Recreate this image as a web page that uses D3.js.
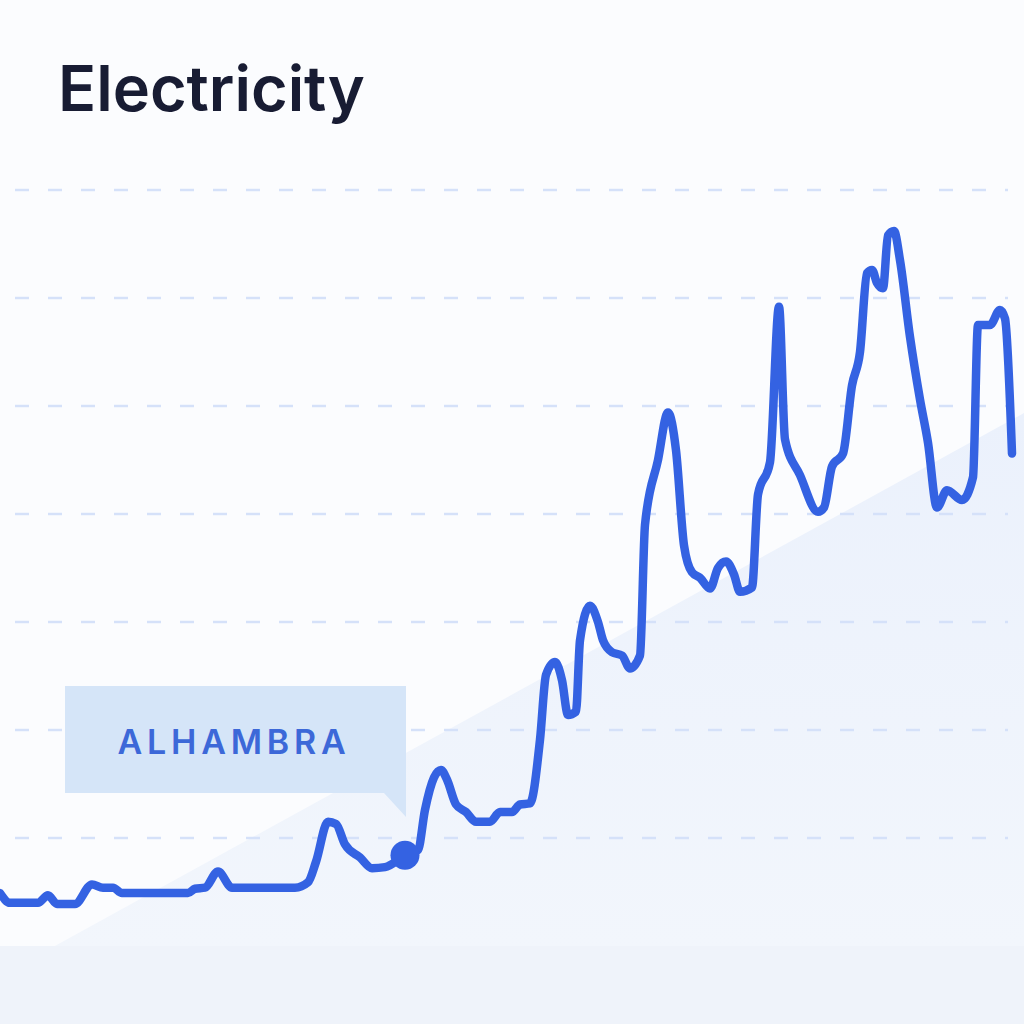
<!DOCTYPE html>
<html><head><meta charset="utf-8">
<script src="https://cdn.jsdelivr.net/npm/d3@7"></script>
<style>html,body{margin:0;padding:0;background:#fbfcfe;}svg{display:block;}</style>
</head><body>
<svg id="c" width="1024" height="1024"></svg>
<script>
// Time position (arbitrary units) and electricity value
const times = [0,1,3.8,4.8,5.7,7.5,9.2,10.3,11.3,12.2,18.8,19.5,20.5,21.8,23.2,29.5,30.8,31.6,32.8,33.6,34.5,36,37.2,38.5,40.5,41.8,42.5,43.4,44.1,44.7,45.6,46.6,47.6,49,50,51.2,52,53,54,54.6,55.5,56.2,56.8,57.6,58,59,59.8,60.3,61.2,62.2,63,64,64.5,65.8,66.8,67.6,68.4,69.2,70,71,71.8,72.6,73.4,74,75.2,75.8,77,77.9,78.5,80,81.8,82.4,83.2,84.3,85.2,86,86.7,87.2,87.7,88.3,88.8,89.4,90,91,92,92.8,93.7,94.7,96.2,97.3,97.8,99,100,100.5,101.2];
const values = [4.9,4.0,4.0,4.7,3.9,3.9,5.7,5.4,5.4,4.9,4.9,5.3,5.4,6.9,5.4,5.4,5.9,7.8,11.5,11.3,9.4,8.2,7.2,7.3,8.4,8.9,12.6,15.6,16.3,15.4,13.1,12.4,11.5,11.5,12.4,12.4,13.1,13.2,19.1,25.1,26.3,24.6,21.4,21.7,28.3,31.5,30.0,28.3,27.2,26.9,25.7,26.9,39.0,45.0,49.4,45.9,37.1,34.6,34.1,33.1,35.0,35.6,34.4,32.8,33.2,41.8,44.8,59.2,46.9,43.6,40.2,40.6,44.4,45.6,51.9,55.0,62.3,62.6,61.4,60.9,65.8,66.2,63.5,56.4,50.6,46.6,40.6,42.2,41.3,43.4,57.5,57.5,58.9,58.1,45.6];
const gridValues = [10,20,30,40,50,60,70];
const title = "Electricity";
const labelText = "ALHAMBRA";
const markerIndex = 24;

const svg = d3.select("#c");
const x = d3.scaleLinear().domain([0,101.2]).range([0,1012]);
const y = d3.scaleLinear().domain([0,70]).range([946,190]);

const defs = svg.append("defs");
const g1 = defs.append("linearGradient").attr("id","wedge").attr("x1","0").attr("y1","0").attr("x2","0").attr("y2","1");
g1.append("stop").attr("offset","0").attr("stop-color","#ebf1fc");
g1.append("stop").attr("offset","1").attr("stop-color","#f2f6fc");

// background
svg.append("rect").attr("width",1024).attr("height",1024).attr("fill","#fbfcfe");
svg.append("path").attr("d","M53,947 L1024,413 L1024,947 Z").attr("fill","url(#wedge)");
svg.append("rect").attr("x",0).attr("y",946).attr("width",1024).attr("height",78).attr("fill","#eff3fa");

// grid
svg.append("g").selectAll("line").data(gridValues).join("line")
  .attr("x1",15).attr("x2",1008)
  .attr("y1",d=>y(d)).attr("y2",d=>y(d))
  .attr("stroke","#d5e1f9").attr("stroke-width",2.4)
  .attr("stroke-dasharray","14 19");

// title
svg.append("text").attr("x",58).attr("y",111).text(title)
  .attr("font-family","Inter, 'Noto Sans', sans-serif").attr("font-weight",600)
  .attr("font-size",63).attr("fill","#181c33");

// label box
svg.append("path").attr("d","M65,686 H406 V817 L384,793 H65 Z").attr("fill","#d5e5f8");
svg.append("text").attr("x",234).attr("y",754).attr("text-anchor","middle").text(labelText)
  .attr("font-family","Inter, 'Noto Sans', sans-serif").attr("font-weight",600)
  .attr("font-size",34).attr("letter-spacing",4.8).attr("fill","#3c68d8");

// line
const line = d3.line().x((d,i)=>x(times[i])).y(d=>y(d)).curve(d3.curveMonotoneX);
svg.append("path").datum(values).attr("d",line)
  .attr("fill","none").attr("stroke","#3462e2").attr("stroke-width",8.5)
  .attr("stroke-linejoin","round").attr("stroke-linecap","round");
svg.append("circle").attr("cx",x(times[markerIndex])).attr("cy",y(values[markerIndex])).attr("r",14.5).attr("fill","#3462e2");
</script>
</body></html>
